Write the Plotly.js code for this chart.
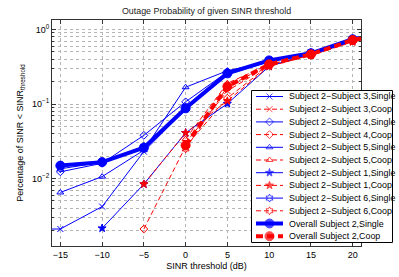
<!DOCTYPE html>
<html><head><meta charset="utf-8">
<script src="https://cdn.plot.ly/plotly-3.0.1.min.js"></script>
<style>html,body{margin:0;padding:0;background:#fff}#chart{width:399px;height:277px}</style>
</head><body><div id="chart"></div>
<script>
// SINR thresholds (dB)
const snr = [-20, -15, -10, -5, 0, 5, 10, 15, 20, 25];
// Outage probability per pair (Single / Coop)
const s3Single = [0.0021, 0.0021, 0.0042, 0.023, 0.085, 0.25, 0.37, 0.49, 0.73, 0.95];
const s3Coop   = [null, null, null, null, 0.030, 0.15, 0.33, 0.46, 0.70, 0.93];
const s4Single = [null, 0.0123, 0.016, 0.038, 0.107, 0.27, 0.38, 0.49, 0.74, 0.95];
const s4Coop   = [null, null, null, 0.0021, 0.027, 0.12, 0.33, 0.45, 0.70, 0.93];
const s5Single = [null, 0.0065, 0.0106, 0.024, 0.168, 0.28, 0.37, 0.49, 0.72, 0.95];
const s5Coop   = [null, null, null, null, 0.034, 0.19, 0.34, 0.46, 0.71, 0.93];
const s1Single = [null, null, 0.00215, 0.0084, 0.041, 0.101, 0.32, 0.47, 0.70, 0.93];
const s1Coop   = [null, null, null, 0.0084, 0.041, 0.11, 0.32, 0.45, 0.68, 0.92];
const s6Single = [null, 0.0135, 0.0165, 0.027, 0.092, 0.26, 0.37, 0.49, 0.73, 0.95];
const s6Coop   = [null, null, null, null, 0.025, 0.17, 0.34, 0.46, 0.71, 0.93];
const overallSingle = [null, 0.0149, 0.0166, 0.0259, 0.0875, 0.258, 0.385, 0.48, 0.74, 0.95];
const overallCoop   = [null, null, null, null, 0.028, 0.172, 0.341, 0.465, 0.723, 0.93];

const seriesNames = [
  'Subject 2\u2212Subject 3,Single', 'Subject 2\u2212Subject 3,Coop',
  'Subject 2\u2212Subject 4,Single', 'Subject 2\u2212Subject 4,Coop',
  'Subject 2\u2212Subject 5,Single', 'Subject 2\u2212Subject 5,Coop',
  'Subject 2\u2212Subject 1,Single', 'Subject 2\u2212Subject 1,Coop',
  'Subject 2\u2212Subject 6,Single', 'Subject 2\u2212Subject 6,Coop',
  'Overall Subject 2,Single', 'Overall Subject 2,Coop'
];
const seriesValues = [s3Single, s3Coop, s4Single, s4Coop, s5Single, s5Coop,
                      s1Single, s1Coop, s6Single, s6Coop, overallSingle, overallCoop];
const yTickVals = [0.01, 0.1, 1];
const yTickText = ['10<sup>\u22122</sup>', '10<sup>\u22121</sup>', '10<sup>0</sup>'];
const xTickVals = [-15, -10, -5, 0, 5, 10, 15, 20];
const xTickText = ['\u221215', '\u221210', '\u22125', '0', '5', '10', '15', '20'];

// styles
const symbols = ['x-thin-open','x-thin-open','diamond-open','diamond-open','triangle-up-open','triangle-up-open',
                 'star','star','hexagram-open','hexagram-open','circle','circle'];
const BLUE = '#0000ff', RED = '#ff0000';
function styleOf(i) {
  const coop = i % 2 === 1;
  const overall = i >= 10;
  const color = coop ? RED : BLUE;
  return {
    color: color,
    width: overall ? 4 : 1,
    dash: coop ? (overall ? '7px,4px' : '5px,3px') : 'solid',
    symbol: symbols[i],
    msize: overall ? 9 : 6
  };
}

const W = 399, H = 277;
const FONT = 'Liberation Sans, Arial, Helvetica, sans-serif';
const traces = [];
seriesValues.forEach((vals, i) => {
  const st = styleOf(i);
  traces.push({
    x: snr, y: vals, type: 'scatter', mode: 'lines+markers', name: seriesNames[i],
    xaxis: 'x', yaxis: 'y', showlegend: false, connectgaps: false,
    line: {color: st.color, width: st.width, dash: st.dash},
    marker: {symbol: st.symbol, size: st.msize, color: st.color, line: {color: st.color, width: 1}}
  });
});

// custom legend (drawn in its own small axes)
const LW = 142, LH = 153, rowH = 12.7, row0 = 6.5;
const annotations = [];
seriesNames.forEach((nm, i) => {
  const st = styleOf(i);
  const ry = row0 + i * rowH;
  traces.push({
    x: [5, 18.5, 32], y: [ry, ry, ry], type: 'scatter', mode: 'lines+markers',
    xaxis: 'x2', yaxis: 'y2', showlegend: false, hoverinfo: 'skip',
    line: {color: st.color, width: st.width, dash: st.dash},
    marker: {symbol: st.symbol, size: [0, st.msize, 0], color: st.color, line: {color: st.color, width: 1}}
  });
  annotations.push({
    xref: 'x2', yref: 'y2', x: 35.5, y: ry, text: nm, showarrow: false,
    xanchor: 'left', yanchor: 'middle', font: {family: FONT, size: 8.9, color: '#000'}
  });
});

const gridCol = '#b4b4b4';
const minorVals = [];
[0.001, 0.01, 0.1, 1].forEach(d => { for (let k = 2; k <= 9; k++) minorVals.push(d * k); });

const layout = {
  width: W, height: H,
  margin: {l: 0, r: 0, t: 0, b: 0},
  paper_bgcolor: '#fff', plot_bgcolor: '#fff',
  font: {family: FONT, size: 9, color: '#000'},
  showlegend: false,
  title: {text: 'Outage Probability of given SINR threshold', font: {family: FONT, size: 8.9, color: '#222'},
          x: 206.5 / W, xref: 'container', xanchor: 'center', y: 1 - 11 / H, yref: 'container', yanchor: 'middle'},
  xaxis: {
    domain: [52 / W, 361 / W], range: [-16, 21], anchor: 'y',
    tickmode: 'array', tickvals: xTickVals, ticktext: xTickText,
    ticks: 'inside', ticklen: 4, tickcolor: '#333', mirror: 'allticks',
    showline: true, linecolor: '#333', linewidth: 1,
    showgrid: true, gridcolor: gridCol, griddash: 'dot', gridwidth: 1, zeroline: false,
    tickfont: {size: 9, color: '#000'},
    title: {text: 'SINR threshold (dB)', font: {size: 9, color: '#000'}, standoff: 3}
  },
  yaxis: {
    domain: [1 - 246 / H, 1 - 20 / H], type: 'log', range: [-2.906, 0.128], anchor: 'x',
    tickmode: 'array', tickvals: yTickVals, ticktext: yTickText,
    ticks: 'inside', ticklen: 4, tickcolor: '#333', mirror: 'allticks',
    showline: true, linecolor: '#333', linewidth: 1,
    showgrid: true, gridcolor: gridCol, griddash: 'dot', gridwidth: 1, zeroline: false,
    tickfont: {size: 9, color: '#000'},
    minor: {tickmode: 'array', tickvals: minorVals, ticks: 'inside', ticklen: 2, tickcolor: '#333',
            showgrid: true, gridcolor: gridCol, griddash: 'dot', gridwidth: 1},
    title: {text: 'Percentage of SINR &lt; SINR<sub>threshold</sub>', font: {size: 9, color: '#000'}, standoff: 6}
  },
  xaxis2: {domain: [251 / W, 393 / W], range: [0, LW], visible: false, fixedrange: true, anchor: 'y2'},
  yaxis2: {domain: [1 - 243 / H, 1 - 90 / H], range: [LH, 0], visible: false, fixedrange: true, anchor: 'x2'},
  shapes: [{type: 'rect', xref: 'x2', yref: 'y2', x0: 0.5, x1: LW - 0.5, y0: 0.5, y1: LH - 0.5,
            fillcolor: '#fff', line: {color: '#000', width: 1}, layer: 'below'}],
  annotations: annotations
};

Plotly.newPlot('chart', traces, layout, {staticPlot: true, displayModeBar: false});
</script>
</body></html>
